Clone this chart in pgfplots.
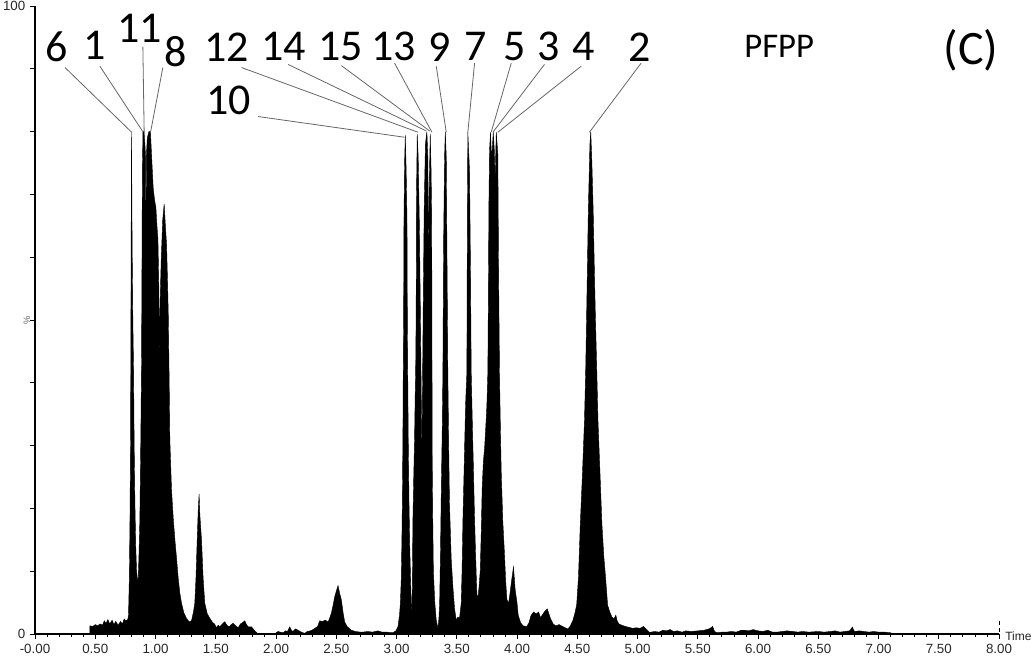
\documentclass[border=0pt]{standalone}
\usepackage{fontspec}
\setmainfont{Carlito}
\newfontfamily\arial{Liberation Sans}
\usepackage{pgfplots}
\pgfplotsset{compat=1.18}
\begin{document}
\begin{tikzpicture}
\begin{axis}[
 scale only axis, width=723pt, height=471pt,
 xmin=0, xmax=8, ymin=0, ymax=100,
 axis x line*=bottom, axis y line*=left,
 axis line style={line width=1.1pt},
 tick align=outside,
 xtick={0,0.5,1,1.5,2,2.5,3,3.5,4,4.5,5,5.5,6,6.5,7,7.5,8},
 xticklabels={-0.00,0.50,1.00,1.50,2.00,2.50,3.00,3.50,4.00,4.50,5.00,5.50,6.00,6.50,7.00,7.50,8.00},
 minor x tick num=4,
 ytick={0,10,20,30,40,50,60,70,80,90,100},
 yticklabels={0,,,,,,,,,,100},
 major tick length=3.75pt, minor tick length=2.25pt,
 every tick/.style={black, line width=0.6pt},
 tick label style={font=\arial\fontsize{10}{11}\selectfont, text=black!85},
 clip=false,
]
\addplot[fill=black, draw=black, line width=0.3pt] coordinates {
(0,0) (0.455,0) (0.456,1.3) (0.48,1.2) (0.50,1.5) (0.52,1.3) (0.54,1.6) (0.56,1.4) (0.575,2.1) (0.59,1.7) (0.605,2.3) (0.62,1.6) (0.64,2.2) (0.655,1.5) (0.67,2.0) (0.69,1.4) (0.71,2.0) (0.725,1.6) (0.74,2.4) (0.755,2.1) (0.77,2.3)
(0.776,3) (0.783,9) (0.788,18) (0.793,31) (0.796,50) (0.799,70) (0.801,80) (0.806,62) (0.812,50) (0.818,42) (0.823,30) (0.829,21) (0.836,14) (0.843,10) (0.850,8.8) (0.856,8.5)
(0.862,12) (0.870,18) (0.878,31) (0.884,43) (0.888,60) (0.891,74) (0.896,80) (0.905,80) (0.912,78) (0.918,76) (0.921,57) (0.924,76) (0.932,79) (0.945,80) (0.958,80) (0.968,76) (0.981,71) (0.993,69) (1.003,68) (1.012,65) (1.020,63) (1.028,55) (1.032,43) (1.037,52) (1.048,60) (1.060,66) (1.072,68.5) (1.082,65) (1.092,62) (1.100,56) (1.106,51) (1.113,41) (1.119,31) (1.133,23) (1.147,18.5) (1.161,15) (1.175,12) (1.188,9) (1.202,6.5) (1.216,4.9) (1.235,3.4) (1.257,2.5) (1.272,2.1) (1.285,1.9)
(1.300,2.2) (1.315,3.5) (1.326,4.9) (1.336,9) (1.346,15) (1.355,20) (1.362,22.3) (1.368,19) (1.375,17) (1.382,15) (1.395,9) (1.409,4.9) (1.430,3.2) (1.451,2.5) (1.475,1.8) (1.49,1.6) (1.506,1.0) (1.520,1.4) (1.534,1.15) (1.555,1.6) (1.575,1.95) (1.592,1.4) (1.611,1.15) (1.628,1.5) (1.644,1.7) (1.665,1.3) (1.686,1.0) (1.705,1.6) (1.722,1.8) (1.741,2.1) (1.755,1.5) (1.769,1.15) (1.796,1.15) (1.824,0.5) (1.851,0) (1.99,0.05) (2.017,0.4) (2.035,0.3) (2.059,0.2) (2.08,0.5) (2.095,0.4) (2.114,1.15) (2.128,0.6) (2.141,0.4) (2.162,0.8) (2.183,0.6) (2.21,0.3) (2.238,0.1) (2.26,0.4) (2.285,0.5) (2.307,0.7) (2.33,1.0) (2.345,1.2) (2.363,2.1) (2.385,2.0) (2.41,2.2) (2.432,1.9) (2.445,2.5) (2.459,3.3) (2.473,4.5) (2.487,5.9) (2.50,6.8) (2.515,7.7) (2.528,6.5) (2.543,5.4) (2.556,3.5) (2.570,1.9) (2.59,1.2) (2.625,0.6) (2.66,0.4) (2.70,0.3) (2.722,0.3) (2.76,0.4) (2.80,0.3) (2.846,0.5) (2.88,0.3) (2.92,0.3) (2.970,0.2) (2.995,0.5) (3.012,1.15)
(3.025,3) (3.032,4.9) (3.040,9) (3.045,15.4) (3.049,22) (3.053,31) (3.056,42) (3.059,50) (3.062,66) (3.067,75) (3.073,79.4) (3.080,74) (3.087,66) (3.090,50) (3.093,42) (3.098,30) (3.104,20.6) (3.110,14) (3.115,10.1) (3.122,5) (3.128,3.0)
(3.132,9) (3.136,18) (3.143,25) (3.150,31.2) (3.155,38) (3.159,42) (3.163,51) (3.166,70) (3.172,79.6) (3.180,76) (3.190,65) (3.200,48) (3.207,35) (3.211,29)
(3.216,40) (3.222,53) (3.230,68) (3.240,78) (3.252,80) (3.260,76) (3.268,58) (3.272,72) (3.280,79.6) (3.287,74) (3.292,66) (3.295,40) (3.297,26) (3.301,18) (3.306,10) (3.318,5) (3.330,2.2) (3.344,0.9)
(3.352,2.5) (3.358,4.9) (3.365,13) (3.372,23.3) (3.379,32) (3.385,41.7) (3.391,62.5) (3.399,76) (3.405,80) (3.413,76) (3.418,62.5) (3.426,41.7) (3.433,30) (3.440,20.6) (3.454,12) (3.468,7.5) (3.482,4) (3.496,2.2) (3.510,2.7) (3.523,2.5)
(3.537,4.9) (3.544,10) (3.551,18) (3.562,27) (3.573,36.4) (3.584,41.7) (3.588,66) (3.592,79.9) (3.606,73.8) (3.614,58) (3.620,41.7) (3.630,33) (3.639,25.9) (3.647,19) (3.656,12.8) (3.667,6.4) (3.675,5.6)
(3.685,7.5) (3.695,10.1) (3.703,16) (3.711,23.3) (3.721,27.5) (3.731,29.6) (3.741,33) (3.750,36.4) (3.758,41.7) (3.762,52.8) (3.767,68.6) (3.772,77) (3.780,79.9) (3.786,77) (3.791,76) (3.797,78) (3.803,79.9) (3.812,77) (3.819,72.3) (3.823,76) (3.828,79.9) (3.835,78) (3.841,76.4) (3.847,58) (3.855,41) (3.862,33) (3.869,25.9) (3.882,18) (3.896,12.8) (3.906,8.5) (3.916,5.5) (3.930,4.9) (3.942,6.5) (3.955,8.5) (3.971,10.7) (3.985,7) (4.000,5) (4.010,3) (4.030,1.8) (4.050,1.3) (4.081,1.2) (4.100,1.8) (4.115,2.9) (4.138,3.5) (4.158,3.2) (4.180,3.5) (4.195,2.6) (4.209,3.0) (4.230,3.6) (4.251,4.0) (4.265,3.2) (4.279,2.4) (4.300,1.6) (4.322,1.3) (4.350,1.5) (4.378,1.2) (4.400,1.0) (4.421,0.8) (4.440,1.2) (4.463,2.1) (4.480,3.3) (4.495,4.6)
(4.510,9) (4.525,17.4) (4.542,25) (4.560,34) (4.570,42) (4.578,51) (4.592,67.6) (4.605,78) (4.612,80) (4.620,76) (4.632,67.6) (4.642,58) (4.650,51) (4.662,42) (4.672,34) (4.690,25) (4.705,17.4) (4.720,12.5) (4.735,9) (4.752,4.6) (4.770,3.5) (4.788,2.7) (4.805,2.4) (4.820,3.0) (4.831,2.1) (4.846,1.6) (4.870,1.4) (4.900,1.2) (4.930,1.06) (4.960,0.9) (4.990,1.0) (5.020,0.9) (5.050,1.2) (5.072,0.8) (5.100,0.25)
(5.14,0.4) (5.18,0.3) (5.21,0.6) (5.24,0.5) (5.27,0.7) (5.30,0.4) (5.33,0.5) (5.37,0.3) (5.40,0.5) (5.45,0.4) (5.50,0.5) (5.553,0.6) (5.59,0.8) (5.610,1.0) (5.623,1.2) (5.64,0.4) (5.66,0.2) (5.70,0.3) (5.74,0.3) (5.78,0.4) (5.82,0.3) (5.86,0.6) (5.892,0.6) (5.92,0.5) (5.96,0.7) (6.00,0.5) (6.04,0.4) (6.08,0.6) (6.12,0.3) (6.16,0.3) (6.20,0.4) (6.24,0.5) (6.29,0.4) (6.33,0.3) (6.37,0.4) (6.42,0.3) (6.46,0.35) (6.50,0.4) (6.55,0.3) (6.60,0.4) (6.64,0.5) (6.68,0.3) (6.72,0.4) (6.76,0.5) (6.783,1.1) (6.80,0.4) (6.84,0.5) (6.88,0.4) (6.92,0.3) (6.96,0.4) (7.00,0.3) (7.05,0.3) (7.10,0.2) (7.12,0) (8,0)
} \closedcycle;
\addplot[densely dashed, black, line width=0.4pt] coordinates {(8,0.3) (8,2.2)};
% peak label leader lines
\begin{scope}[black!60, line width=0.6pt]
\draw (axis cs:0.249,90.2) -- (axis cs:0.802,79.9);
\draw (axis cs:0.539,90.4) -- (axis cs:0.898,79.9);
\draw (axis cs:0.895,93.5) -- (axis cs:0.906,79.9);
\draw (axis cs:1.061,90.2) -- (axis cs:0.959,79.9);
\draw (axis cs:1.714,90.2) -- (axis cs:3.178,79.9);
\draw (axis cs:2.100,90.7) -- (axis cs:3.247,80.1);
\draw (axis cs:2.543,90.5) -- (axis cs:3.275,80.1);
\draw (axis cs:2.984,90.9) -- (axis cs:3.294,79.9);
\draw (axis cs:3.330,90.4) -- (axis cs:3.413,79.9);
\draw (axis cs:3.648,90.9) -- (axis cs:3.592,79.9);
\draw (axis cs:3.952,90.9) -- (axis cs:3.786,79.9);
\draw (axis cs:4.228,90.7) -- (axis cs:3.800,79.9);
\draw (axis cs:4.532,90.4) -- (axis cs:3.841,79.9);
\draw (axis cs:5.030,90.9) -- (axis cs:4.601,79.9);
\draw (axis cs:1.851,82.4) -- (axis cs:3.067,79.1);
\end{scope}
\begin{scope}[every node/.style={font=\fontsize{33}{35}\selectfont, inner sep=0pt}]
\node at (axis cs:0.182,93.5) {6};
\node at (axis cs:0.497,93.8) {1};
\node at (axis cs:0.870,96.5) {11};
\node at (axis cs:1.169,92.7) {8};
\node at (axis cs:1.592,93.5) {12};
\node at (axis cs:2.064,93.5) {14};
\node at (axis cs:2.537,93.5) {15};
\node at (axis cs:2.976,93.5) {13};
\node at (axis cs:3.357,93.5) {9};
\node at (axis cs:3.656,93.5) {7};
\node at (axis cs:3.979,93.5) {5};
\node at (axis cs:4.261,93.5) {3};
\node at (axis cs:4.551,93.5) {4};
\node at (axis cs:5.016,93.5) {2};
\node at (axis cs:1.608,85.0) {10};
\end{scope}
\node[font=\fontsize{26}{28}\selectfont, inner sep=0pt] at (axis cs:6.176,93.5) {PFPP};
\node[font=\fontsize{36}{38}\selectfont, inner sep=0pt] at (axis cs:7.768,93.0) {(C)};
\node[font=\arial\fontsize{9}{10}\selectfont, text=black!85, anchor=west, inner sep=0pt] at ([xshift=4.5pt,yshift=-2pt]axis cs:8,0) {Time};
\node[font=\arial\fontsize{7}{8}\selectfont, text=black!60, rotate=90, inner sep=0pt] at ([xshift=-6pt]axis cs:0,50) {\%};
\coordinate (bl) at (rel axis cs:0,0);
\coordinate (tr) at (rel axis cs:1,1);
\end{axis}
\pgfresetboundingbox
\path ([xshift=-26.25pt,yshift=-16.5pt]bl) rectangle ([xshift=27pt,yshift=4.5pt]tr);
\end{tikzpicture}
\end{document}
